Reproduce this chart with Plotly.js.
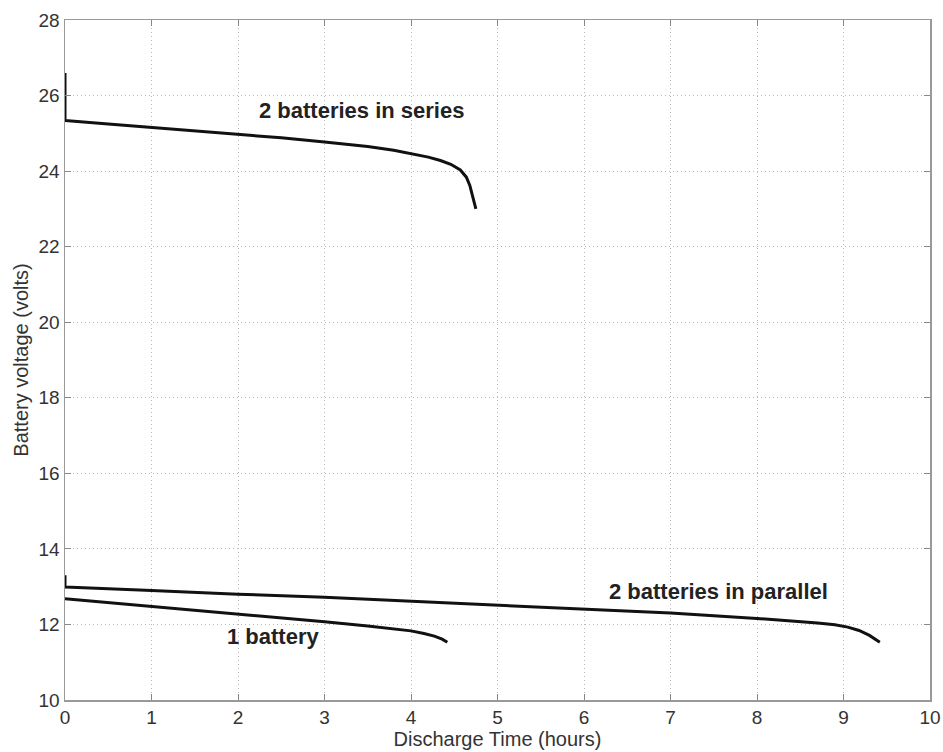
<!DOCTYPE html>
<html><head><meta charset="utf-8">
<script src="https://cdn.plot.ly/plotly-3.0.1.min.js"></script>
<style>body{margin:0;background:#fff}#c{width:943px;height:752px}</style>
</head><body><div id="c"></div>
<script>
const seriesX = [0, 0, 0.5, 1, 1.5, 2, 2.5, 3, 3.5, 3.8, 4, 4.2, 4.34, 4.46, 4.57, 4.64, 4.68, 4.72, 4.75];
const seriesY = [26.6, 25.34, 25.25, 25.16, 25.07, 24.98, 24.88, 24.77, 24.65, 24.55, 24.47, 24.37, 24.28, 24.18, 24.03, 23.84, 23.62, 23.3, 23.0];
const parallelX = [0, 0, 1, 2, 3, 4, 5, 6, 7, 8, 8.4, 8.7, 8.9, 9.05, 9.18, 9.3, 9.42];
const parallelY = [13.3, 12.99, 12.9, 12.8, 12.72, 12.62, 12.52, 12.42, 12.3, 12.16, 12.1, 12.04, 11.99, 11.93, 11.84, 11.71, 11.53];
const oneX = [0, 0.5, 1, 1.5, 2, 2.5, 3, 3.5, 3.8, 4.0, 4.15, 4.27, 4.36, 4.42];
const oneY = [12.68, 12.58, 12.47, 12.38, 12.28, 12.18, 12.07, 11.96, 11.89, 11.83, 11.76, 11.69, 11.61, 11.53];
const labels = ["2 batteries in series", "2 batteries in parallel", "1 battery"];
const labelX = [3.43, 7.55, 2.4];
const labelY = [25.6, 12.86, 11.67];
const xTicks = [0,1,2,3,4,5,6,7,8,9,10];
const yTicks = [10,12,14,16,18,20,22,24,26,28];

const font = 'Liberation Sans, Arial, Helvetica, sans-serif';
const mk = (x,y)=>({type:'scatter', x:x, y:y, mode:'lines', showlegend:false, hoverinfo:'none',
  line:{color:'#111', width:3, shape:'linear'}});
const traces = [mk(seriesX, seriesY), mk(parallelX, parallelY), mk(oneX, oneY)];

const axisCommon = {
  showgrid:true, gridcolor:'#b8b8b8', griddash:'1px,3px', gridwidth:1,
  zeroline:false, showline:true, linecolor:'#999', linewidth:1.5, mirror:'ticks',
  ticks:'inside', ticklen:6, tickcolor:'#888',
  tickfont:{family:font, size:19, color:'#333'}
};
const layout = {
  width:943, height:752,
  margin:{l:65, r:13, t:20, b:52},
  paper_bgcolor:'#fff', plot_bgcolor:'#fff',
  xaxis:Object.assign({}, axisCommon, {range:[0,10], tickvals:xTicks, ticktext:xTicks.map(String),
    title:{text:'Discharge Time (hours)', standoff:0, font:{family:font, size:20, color:'#333'}}}),
  yaxis:Object.assign({}, axisCommon, {range:[10,28], tickvals:yTicks, ticktext:yTicks.map(String),
    title:{text:'Battery voltage (volts)', standoff:4, font:{family:font, size:20, color:'#333'}}}),
  annotations: labels.map((t,i)=>({x:labelX[i], y:labelY[i], text:'<b>'+t+'</b>', showarrow:false,
    font:{family:font, size:22, color:'#222'}}))
};
Plotly.newPlot('c', traces, layout, {displayModeBar:false, staticPlot:true});
</script></body></html>
